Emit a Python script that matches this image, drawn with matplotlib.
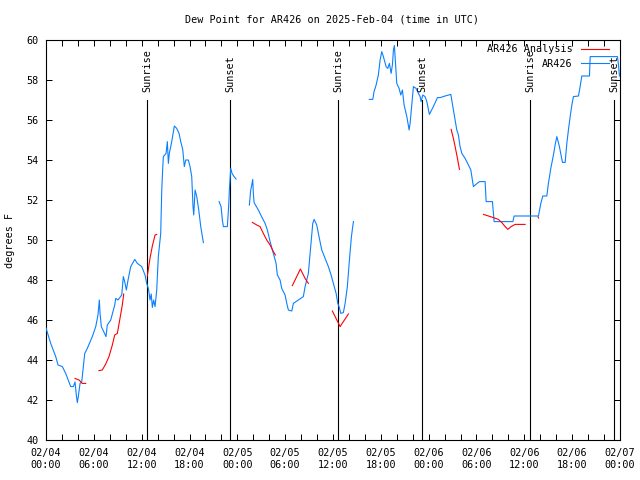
import numpy as np
import matplotlib
matplotlib.use("Agg")
import matplotlib.pyplot as plt
from matplotlib.ticker import FixedLocator, FuncFormatter
from matplotlib.lines import Line2D

nan = np.nan

# Hours since 2025-02-04 00:00 UTC, dew point (F). NaN separates gaps.
blue_hours = [
    0.0, 0.59, 1.22, 1.51, 2.05, 2.47, 3.10, 3.43, 3.64, 3.80, 3.93, 4.05, 4.27, 4.48,
    4.68, 4.86, 5.18, 5.81, 6.24, 6.52, 6.69, 6.78, 6.94, 7.53, 7.69, 8.12, 8.62, 8.75,
    9.03, 9.50, 9.70, 9.87, 10.08, 10.29, 10.63, 11.13, 11.46, 12.01, 12.42, 12.63,
    12.84, 13.05, 13.20, 13.34, 13.50, 13.68, 13.89, 14.09, 14.39, 14.52, 14.64, 14.72,
    15.06, 15.22, 15.35, 15.47, 15.77, 16.10, 16.40, 16.69, 16.90, 17.15, 17.35, 17.53,
    17.85, 18.07, 18.28, 18.44, 18.53, 18.70, 18.91, 19.16, 19.41, 19.74,
    nan,
    21.71, 21.96, 22.12, 22.25, 22.75, 22.92, 23.00, 23.17, 23.34, 23.59, 23.84,
    nan,
    25.51, 25.68, 25.81, 25.93, 26.01, 26.10, 26.64, 26.94, 27.48, 27.77, 28.11, 28.52,
    28.86, 29.02, 29.36, 29.57, 29.99, 30.20, 30.40, 30.83, 31.03, 31.66, 32.28, 32.50,
    32.91, 33.21, 33.46, 33.63, 33.96, 34.29, 34.59, 35.01, 35.42, 35.76, 36.05, 36.39,
    36.60, 36.76, 36.98, 37.30, 37.52, 37.80, 38.06, 38.31, 38.56,
    nan,
    40.56, 40.99, 41.15, 41.41, 41.69, 41.91, 42.12, 42.32, 42.66, 42.87, 43.07, 43.29,
    43.45, 43.58, 43.70, 43.88, 44.00, 44.29, 44.50, 44.71, 44.92, 45.26, 45.55, 45.67,
    45.88, 46.09, 46.42, 46.71, 46.93, 47.05, 47.26, 47.55, 47.77, 48.09, 48.59, 49.10,
    49.44, 50.06, 50.78, 51.03, 51.32, 51.53, 51.73, 51.94, 52.16, 52.57, 52.99, 53.29,
    53.49, 53.61, 53.83, 54.37, 55.08, 55.21, 56.00, 56.21, 58.56, 58.72, 61.77, 62.07,
    62.32, 62.82, 63.02, 63.32, 63.65, 63.86, 64.08, 64.40, 64.78, 65.12, 65.33, 65.53,
    65.75, 65.96, 66.16, 66.79, 67.00, 67.21, 68.17, 68.26, 71.68, 71.81, 71.93,
]
blue_dewpt = [
    45.6, 44.83, 44.17, 43.75, 43.67, 43.33, 42.67, 42.67, 42.9, 42.25, 41.87, 42.17, 42.83, 42.9,
    43.67, 44.33, 44.58, 45.17, 45.67, 46.25, 47.0, 46.33, 45.67, 45.17, 45.75, 46.0, 46.75, 47.08,
    47.0, 47.25, 48.17, 47.92, 47.5, 48.0, 48.67, 49.03, 48.83, 48.67, 48.25, 47.83,
    47.58, 47.0, 47.3, 46.63, 47.0, 46.67, 47.5, 49.17, 50.33, 52.5, 53.58, 54.17,
    54.33, 54.92, 53.83, 54.33, 54.92, 55.7, 55.58, 55.33, 54.92, 54.53, 53.67, 54.0,
    54.0, 53.67, 53.17, 51.67, 51.25, 52.5, 52.17, 51.5, 50.67, 49.87,
    nan,
    51.92, 51.67, 51.0, 50.67, 50.67, 51.75, 52.5, 53.58, 53.33, 53.17, 53.05,
    nan,
    51.75, 52.5, 52.75, 53.03, 52.33, 51.87, 51.5, 51.25, 50.83, 50.5, 49.92, 49.33,
    48.83, 48.25, 48.0, 47.58, 47.25, 46.83, 46.5, 46.45, 46.83, 47.0, 47.17, 47.67,
    48.33, 49.67, 50.83, 51.03, 50.75, 50.08, 49.5, 49.08, 48.67, 48.25, 47.83, 47.33,
    46.83, 46.67, 46.33, 46.37, 46.83, 47.67, 49.0, 50.17, 50.92,
    nan,
    57.03, 57.03, 57.42, 57.75, 58.25, 59.0, 59.42, 59.17, 58.67, 58.58, 58.83, 58.33,
    58.75, 59.5, 59.72, 58.58, 57.83, 57.58, 57.25, 57.5, 56.75, 56.17, 55.5, 55.83,
    56.75, 57.67, 57.58, 57.33, 57.17, 56.92, 57.25, 57.17, 56.92, 56.28, 56.67, 57.12,
    57.12, 57.2, 57.28, 56.67, 56.0, 55.5, 55.25, 54.67, 54.33, 54.08, 53.75, 53.5,
    53.0, 52.67, 52.75, 52.92, 52.92, 51.92, 51.92, 50.92, 50.92, 51.2, 51.2, 51.83,
    52.2, 52.2, 52.83, 53.58, 54.25, 54.75, 55.17, 54.67, 53.88, 53.88, 54.83, 55.5,
    56.17, 56.75, 57.17, 57.2, 57.67, 58.2, 58.2, 59.17, 59.17, 58.75, 58.2,
]

red_hours = [
    3.64, 4.14, 4.55, 4.98, nan,
    6.65, 7.06, 7.49, 7.90, 8.32, 8.62, 8.95, 9.28, 9.57, 9.75, nan,
    12.71, 13.05, 13.34, 13.68, 13.89, nan,
    25.88, 26.44, 26.85, 27.26, 27.69, 28.11, 28.52, 28.77, nan,
    30.90, 31.91, 32.50, 32.91, nan,
    35.92, 36.89, 37.93, nan,
    50.82, 51.10, 51.32, 51.61, 51.86, nan,
    54.87, 55.50, 56.12, 56.75, 57.18, 57.59, 57.93, 58.34, 58.85, 60.10, nan,
    61.72, 61.80,
]
red_dewpt = [
    43.08, 43.0, 42.83, 42.83, nan,
    43.47, 43.5, 43.8, 44.17, 44.75, 45.25, 45.33, 46.08, 46.75, 47.3, nan,
    48.2, 49.1, 49.7, 50.25, 50.28, nan,
    50.88, 50.75, 50.67, 50.33, 50.0, 49.75, 49.42, 49.25, nan,
    47.72, 48.55, 48.08, 47.83, nan,
    46.45, 45.67, 46.3, nan,
    55.53, 55.08, 54.67, 54.08, 53.53, nan,
    51.28, 51.2, 51.12, 51.03, 50.87, 50.67, 50.53, 50.67, 50.78, 50.78, nan,
    51.15, 51.1,
]

sun_hours = [12.71, 23.12, 36.68, 47.21, 60.77, 71.31]
sun_labels = ["Sunrise", "Sunset", "Sunrise", "Sunset", "Sunrise", "Sunset"]

tick_hours = list(range(0, 73, 2))

FONT = "DejaVu Sans Mono"
FS = 7.3
plt.rcParams["font.family"] = FONT
plt.rcParams["font.size"] = FS

fig = plt.figure(figsize=(6.4, 4.8), dpi=100)
ax = fig.add_axes([46 / 640, 40 / 480, (620 - 46) / 640, 400 / 480])

blue = "#0a80ff"
red = "#ff0000"
LW = 0.8

ax.plot(blue_hours, blue_dewpt, color=blue, lw=LW, zorder=3)
ax.plot(red_hours, red_dewpt, color=red, lw=LW, zorder=4)

for h, lab in zip(sun_hours, sun_labels):
    ax.plot([h, h], [40, 57], color="black", lw=0.8, zorder=2)
    ax.text(h, 57.38, lab, rotation=90, ha="center", va="bottom", fontsize=FS)

ax.set_xlim(0, 72)
ax.set_ylim(40, 60)


def fmt_x(v, pos):
    h = int(round(v))
    if h % 6 != 0:
        return ""
    day = 4 + h // 24
    return "02/%02d\n%02d:00" % (day, h % 24)


ax.xaxis.set_major_locator(FixedLocator(tick_hours))
ax.xaxis.set_major_formatter(FuncFormatter(fmt_x))
ax.set_yticks(np.arange(40, 61, 2))
ax.tick_params(direction="in", length=4, width=0.72, top=True, right=True,
               labelsize=FS)
ax.tick_params(axis="x", pad=6)
ax.tick_params(axis="y", pad=5)
for s in ax.spines.values():
    s.set_linewidth(0.8)

ax.set_ylabel("degrees F", fontsize=FS)
ax.yaxis.set_label_coords(-31 / 574, 0.5)
fig.text(332 / 640, 1 - 19 / 480, "Dew Point for AR426 on 2025-Feb-04 (time in UTC)",
         ha="center", va="center", fontsize=FS)

handles = [Line2D([], [], color=red, lw=LW), Line2D([], [], color=blue, lw=LW)]
ax.legend(handles, ["AR426 Analysis", "AR426"], loc="upper right",
          bbox_to_anchor=(1.0 - 7 / 574, 1.0), frameon=False, markerfirst=False,
          handlelength=2.8, handletextpad=0.8, labelspacing=0.45,
          borderpad=0.4, borderaxespad=0.0, fontsize=FS)

fig.savefig("out.png", dpi=100)
